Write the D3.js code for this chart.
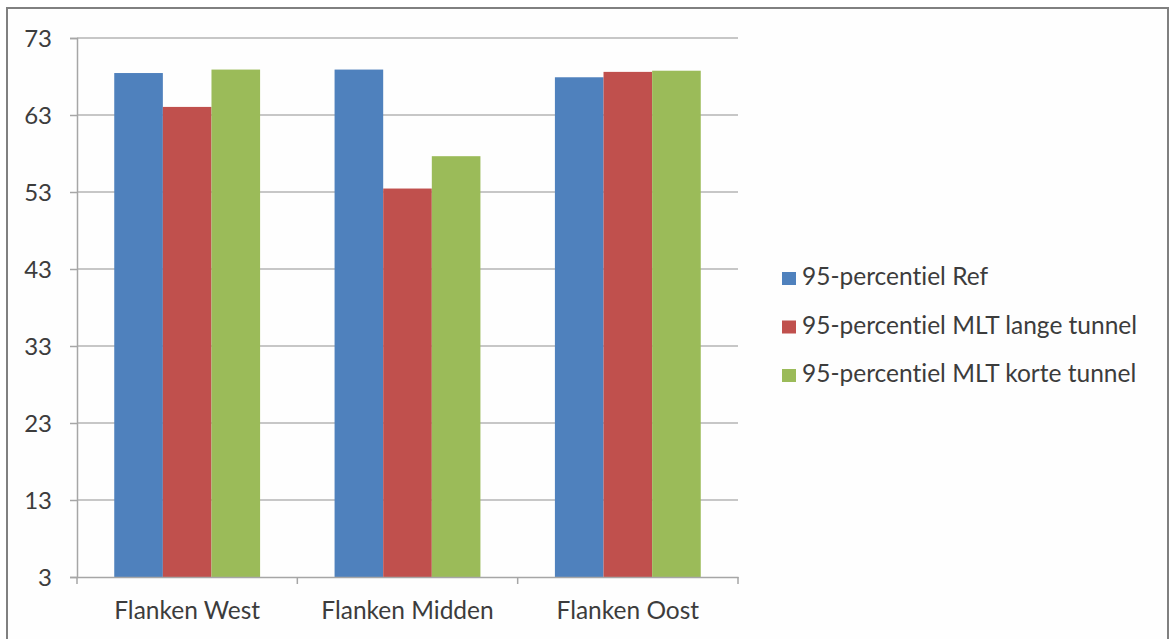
<!DOCTYPE html>
<html>
<head>
<meta charset="utf-8">
<script src="https://cdn.jsdelivr.net/npm/d3@7"></script>
<style>
  html, body { margin: 0; padding: 0; background: #ffffff; }
  svg { display: block; }
  text { font-family: Lato, "Open Sans", sans-serif; fill: #3c3c3c; font-variant-ligatures: none; font-feature-settings: "liga" 0; }
</style>
</head>
<body>
<svg id="chart" width="1170" height="639"></svg>
<script>
const categories = ["Flanken West", "Flanken Midden", "Flanken Oost"];
const seriesNames = ["95-percentiel Ref", "95-percentiel MLT lange tunnel", "95-percentiel MLT korte tunnel"];
const refValues = [68.45, 68.9, 67.9];
const langeValues = [64.05, 53.45, 68.6];
const korteValues = [68.9, 57.65, 68.75];
const yTicks = [3, 13, 23, 33, 43, 53, 63, 73];
const colors = ["#4f81bd", "#c0504d", "#9bbb59"];

const seriesValues = [refValues, langeValues, korteValues];

const svg = d3.select("#chart");
const W = 1170, H = 639;

// outer frame
svg.append("rect").attr("x", 0).attr("y", 0).attr("width", W).attr("height", H).attr("fill", "#ffffff");
svg.append("rect")
  .attr("x", 7).attr("y", 8).attr("width", 1161).attr("height", 640)
  .attr("fill", "#fefefe").attr("stroke", "#808080").attr("stroke-width", 2);

const plot = { left: 77, right: 738, top: 38, bottom: 577 };

const y = d3.scaleLinear().domain([3, 73]).range([plot.bottom, plot.top]);
const x0 = d3.scaleBand().domain(categories).range([plot.left, plot.right]).paddingInner(0).paddingOuter(0);
const x1 = d3.scaleBand().domain(seriesNames).range([0, x0.bandwidth()]).paddingInner(0).paddingOuter(0.766);

// gridlines
svg.append("g").selectAll("line").data(yTicks.filter(t => t !== 3)).join("line")
  .attr("x1", plot.left).attr("x2", plot.right)
  .attr("y1", d => y(d)).attr("y2", d => y(d))
  .attr("stroke", "#b4b4b4").attr("stroke-width", 1.5);

// bars
const groups = svg.append("g").selectAll("g").data(categories).join("g")
  .attr("transform", d => `translate(${x0(d)},0)`);
groups.selectAll("rect").data((c, ci) => seriesNames.map((s, si) => ({ s, si, v: seriesValues[si][ci] })))
  .join("rect")
  .attr("x", d => x1(d.s))
  .attr("width", x1.bandwidth())
  .attr("y", d => y(d.v))
  .attr("height", d => y(3) - y(d.v))
  .attr("fill", d => colors[d.si]);

// y axis
const yAxis = d3.axisLeft(y).tickValues(yTicks).tickSize(7).tickPadding(18).tickFormat(d3.format("d"));
const gy = svg.append("g").attr("transform", `translate(${plot.left},0)`).call(yAxis);
gy.select(".domain").attr("stroke", "#a6a6a6").attr("stroke-width", 1.5);
gy.selectAll(".tick line").attr("stroke", "#a6a6a6").attr("stroke-width", 1.5);
gy.selectAll(".tick text").style("font-size", "24px").attr("fill", "#3c3c3c")
  .style("font-family", "Lato, sans-serif").attr("dy", "0.36em");

// x axis
const xAxis = d3.axisBottom(x0).tickSize(0).tickPadding(25);
const gx = svg.append("g").attr("transform", `translate(0,${plot.bottom})`).call(xAxis);
gx.select(".domain").attr("stroke", "#a6a6a6").attr("stroke-width", 1.5);
gx.selectAll(".tick text").style("font-size", "24.5px").attr("fill", "#3c3c3c")
  .style("font-family", "Lato, sans-serif");
// category separator ticks
const boundaries = categories.map(c => x0(c)).concat([x0(categories[categories.length - 1]) + x0.bandwidth()]);
gx.append("g").selectAll("line").data(boundaries).join("line")
  .attr("x1", d => d).attr("x2", d => d).attr("y1", 0).attr("y2", 7)
  .attr("stroke", "#a6a6a6").attr("stroke-width", 1.5);

// legend
const legend = svg.append("g").attr("transform", "translate(782,272)");
const li = legend.selectAll("g").data(seriesNames).join("g")
  .attr("transform", (d, i) => `translate(0,${i * 48.5})`);
li.append("rect").attr("width", 14).attr("height", 13).attr("fill", (d, i) => colors[i]);
li.append("text").attr("x", 20).attr("y", 13).text(d => d)
  .style("font-size", "24.5px").attr("fill", "#3c3c3c");
</script>
</body>
</html>
